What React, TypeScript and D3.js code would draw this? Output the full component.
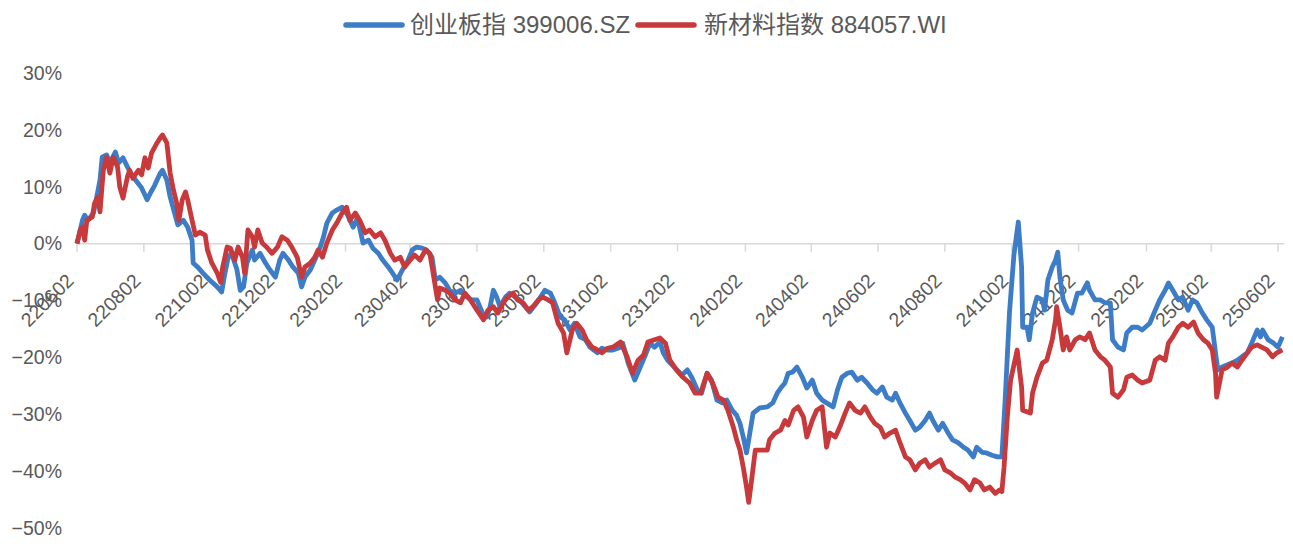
import React from "react";
import * as d3 from "d3";

// ---- data ----
const START_DATE = "2022-06-02";
const tickLabels = [
  "220602", "220802", "221002", "221202", "230202", "230402", "230602", "230802",
  "231002", "231202", "240202", "240402", "240602", "240802", "241002", "241202",
  "250202", "250402", "250602",
];
const yTicks = [30, 20, 10, 0, -10, -20, -30, -40, -50];
const seriesNames = ["创业板指 399006.SZ", "新材料指数 884057.WI"];
const seriesColors = ["#3d7cc6", "#c8393b"];

// [days since START_DATE, cumulative return %]
const cybData: [number, number][] = [
  [0,0],[5,4.1],[7,5.0],[10,4.1],[15,5.4],[18,8.2],[21,11.2],[23,15.2],[27,15.6],[30,14.2],[35,16.1],[38,14.2],[42,15.1],[46,13.5],[50,12.1],[55,10.8],[59,9.8],[64,7.7],[67,8.9],[71,10.3],[76,12.4],[78,12.9],[82,11.2],[85,8.2],[89,5.4],[92,3.3],[97,4.1],[101,2.9],[105,0.6],[106,-3.4],[110,-4.1],[115,-5.2],[121,-6.4],[128,-7.6],[132,-8.5],[135,-5.2],[138,-2.4],[141,-1.7],[146,-4.6],[149,-8.2],[152,-7.6],[155,-3.4],[160,-1.1],[162,-2.9],[167,-1.7],[172,-3.4],[176,-4.6],[181,-5.9],[185,-2.9],[188,-1.7],[193,-2.9],[197,-4.1],[202,-5.2],[205,-7.6],[208,-5.9],[213,-4.6],[217,-2.9],[222,-0.6],[225,1.2],[228,3.6],[233,5.4],[237,5.9],[242,6.4],[247,5.0],[252,2.9],[256,4.5],[261,0.1],[266,0.6],[270,-0.8],[275,-1.7],[279,-2.9],[284,-4.1],[288,-5.2],[292,-6.4],[297,-4.6],[301,-3.4],[306,-1.1],[310,-0.6],[315,-0.8],[319,-1.1],[324,-2.4],[327,-6.4],[331,-5.9],[336,-6.9],[340,-8.2],[345,-8.7],[350,-8.2],[356,-9.4],[360,-9.9],[365,-9.9],[370,-12.2],[374,-12.9],[377,-11.1],[380,-8.2],[383,-9.4],[386,-11.1],[391,-9.4],[395,-8.7],[400,-9.4],[404,-9.9],[409,-11.1],[413,-12.0],[418,-10.8],[423,-9.4],[427,-8.2],[432,-8.7],[436,-10.4],[441,-12.9],[445,-13.4],[450,-15.2],[454,-14.0],[459,-16.4],[464,-16.9],[468,-18.2],[475,-19.2],[479,-18.4],[484,-18.7],[489,-18.7],[496,-18.2],[498,-17.5],[503,-21.0],[509,-24.0],[514,-21.7],[518,-19.9],[523,-17.5],[527,-18.2],[532,-17.3],[535,-19.2],[539,-20.5],[545,-21.7],[552,-23.1],[557,-22.2],[561,-23.5],[566,-25.7],[570,-26.3],[575,-22.8],[579,-24.0],[584,-27.5],[589,-28.0],[593,-27.5],[598,-29.3],[602,-30.2],[605,-31.6],[608,-34.0],[611,-36.8],[614,-33.3],[617,-29.8],[623,-28.9],[630,-28.7],[635,-28.0],[639,-26.3],[643,-25.2],[646,-24.5],[649,-22.8],[653,-22.6],[657,-21.7],[662,-23.5],[666,-25.4],[671,-24.0],[675,-26.3],[680,-27.5],[684,-28.0],[690,-28.7],[694,-25.7],[698,-23.5],[703,-22.8],[707,-22.6],[712,-24.0],[716,-23.5],[721,-24.5],[726,-25.7],[730,-26.3],[735,-25.2],[739,-27.0],[744,-27.5],[747,-26.3],[751,-28.0],[756,-29.8],[760,-31.1],[765,-32.8],[769,-32.3],[774,-31.1],[778,-29.8],[781,-31.1],[786,-32.8],[790,-31.6],[795,-33.3],[799,-34.5],[804,-35.0],[809,-35.8],[813,-36.3],[818,-37.5],[821,-35.8],[826,-36.7],[830,-36.8],[835,-37.2],[840,-37.5],[844,-37.5],[847,-27.5],[851,-12.0],[855,-2.0],[859,3.8],[862,-4.1],[863,-14.7],[867,-14.7],[869,-16.9],[872,-12.2],[876,-9.4],[881,-9.9],[883,-11.7],[886,-6.4],[890,-4.1],[893,-2.9],[895,-1.5],[897,-5.9],[900,-9.9],[904,-11.7],[908,-12.2],[913,-8.7],[917,-8.7],[922,-6.9],[924,-8.2],[929,-9.9],[934,-9.9],[938,-10.4],[943,-10.4],[945,-16.9],[950,-18.2],[955,-18.7],[958,-15.7],[963,-14.7],[968,-14.7],[972,-15.2],[979,-14.0],[984,-11.7],[988,-9.9],[993,-8.2],[996,-6.9],[1000,-8.2],[1005,-9.9],[1009,-9.4],[1014,-11.7],[1018,-9.9],[1022,-10.4],[1027,-12.2],[1031,-13.4],[1036,-14.7],[1039,-19.2],[1041,-22.2],[1045,-21.7],[1050,-21.3],[1054,-21.0],[1059,-20.5],[1063,-19.9],[1068,-19.2],[1072,-17.5],[1077,-15.2],[1080,-16.4],[1082,-15.2],[1087,-16.9],[1092,-17.5],[1096,-18.2],[1100,-16.4],
];

const xclData: [number, number][] = [
  [0,0],[3,2.4],[5,2.9],[7,0.6],[9,4.1],[14,4.7],[16,7.1],[19,8.2],[21,5.6],[24,12.9],[27,15.2],[30,12.4],[33,15.2],[37,13.5],[39,10.0],[42,8.0],[46,11.7],[48,12.9],[51,11.5],[56,12.9],[59,12.1],[62,15.1],[65,13.3],[68,15.9],[73,17.7],[76,18.6],[78,19.1],[82,17.7],[85,12.4],[88,9.4],[91,7.1],[93,4.1],[96,7.7],[99,9.1],[101,7.7],[105,4.1],[108,1.5],[112,2.0],[117,1.5],[119,-1.1],[123,-3.4],[128,-5.2],[131,-6.8],[133,-4.1],[137,-0.6],[140,-0.8],[144,-2.9],[147,-0.6],[151,-2.4],[153,-5.2],[156,2.4],[160,1.2],[162,-0.6],[165,2.4],[169,0.1],[173,-0.6],[178,-1.7],[183,-0.6],[187,1.2],[192,0.6],[196,-0.6],[201,-2.4],[205,-5.9],[208,-4.1],[213,-3.4],[217,-2.4],[220,-1.1],[224,-2.4],[228,0.1],[233,2.4],[237,3.6],[242,5.4],[246,6.4],[249,4.1],[254,5.4],[258,4.1],[263,1.9],[267,2.4],[272,1.2],[277,1.9],[281,0.6],[286,-1.7],[290,-2.9],[295,-2.4],[299,-4.1],[304,-2.9],[308,-2.0],[313,-2.9],[318,-1.1],[322,-1.7],[325,-5.2],[329,-9.9],[331,-7.8],[336,-8.2],[340,-8.7],[345,-9.9],[350,-10.4],[354,-8.7],[359,-9.9],[365,-11.7],[371,-13.4],[375,-11.7],[380,-11.1],[384,-12.2],[389,-10.4],[393,-9.4],[398,-8.7],[402,-9.9],[407,-10.4],[412,-11.7],[416,-11.1],[421,-9.9],[425,-9.4],[430,-9.9],[434,-10.4],[439,-14.0],[444,-15.7],[447,-19.2],[452,-15.2],[456,-14.0],[461,-15.2],[465,-16.9],[470,-18.2],[475,-18.7],[479,-19.2],[484,-18.4],[489,-18.2],[496,-17.3],[502,-19.9],[507,-22.8],[512,-20.5],[517,-19.6],[521,-17.3],[527,-16.9],[532,-16.6],[537,-17.5],[541,-20.5],[547,-22.2],[553,-23.5],[559,-24.5],[564,-26.3],[569,-26.3],[575,-22.8],[580,-24.5],[585,-27.0],[590,-27.5],[594,-29.3],[599,-32.3],[602,-34.5],[605,-36.3],[608,-39.3],[611,-42.8],[613,-45.5],[616,-41.0],[619,-36.3],[623,-36.3],[630,-36.3],[632,-34.5],[637,-33.3],[642,-32.8],[646,-31.1],[649,-31.9],[654,-29.3],[658,-28.7],[663,-30.5],[666,-34.0],[671,-31.1],[675,-29.3],[680,-28.7],[684,-35.8],[687,-33.3],[692,-34.0],[696,-32.3],[701,-29.8],[705,-28.0],[710,-29.3],[715,-29.8],[719,-28.7],[724,-30.5],[728,-31.6],[733,-32.3],[737,-34.0],[742,-33.3],[747,-32.8],[751,-35.0],[756,-37.5],[760,-38.0],[765,-39.8],[769,-38.6],[774,-38.0],[778,-39.3],[783,-38.6],[788,-38.0],[792,-39.8],[797,-40.3],[801,-41.0],[806,-41.5],[810,-42.1],[815,-43.3],[819,-41.5],[824,-42.1],[828,-43.3],[833,-42.8],[838,-43.9],[842,-43.3],[844,-43.6],[846,-39.3],[849,-30.5],[852,-24.0],[858,-18.7],[862,-25.2],[863,-29.3],[870,-29.8],[872,-26.3],[876,-23.5],[881,-21.0],[885,-20.5],[890,-16.9],[893,-13.4],[894,-11.1],[897,-14.7],[900,-18.7],[903,-16.4],[906,-18.7],[911,-16.9],[915,-16.4],[920,-16.9],[924,-15.7],[929,-18.7],[934,-19.9],[938,-20.5],[943,-21.7],[945,-26.3],[950,-27.0],[955,-25.7],[958,-23.5],[963,-23.1],[968,-24.0],[972,-24.5],[979,-24.0],[984,-20.5],[988,-19.9],[993,-20.5],[996,-17.5],[1000,-16.4],[1005,-14.7],[1009,-14.0],[1014,-14.7],[1019,-13.8],[1023,-15.7],[1028,-16.9],[1032,-17.5],[1036,-18.7],[1039,-22.8],[1040,-27.0],[1045,-22.2],[1050,-21.7],[1054,-21.0],[1059,-21.7],[1063,-20.5],[1068,-19.2],[1072,-18.2],[1077,-17.8],[1081,-18.2],[1086,-18.7],[1091,-19.9],[1095,-19.2],[1100,-18.7],
];

// ---- layout ----
const W = 1293;
const H = 552;
const FONT = "Arial, 'Liberation Sans', 'Noto Sans CJK SC', sans-serif";
const TEXT = "#595959";
const AXIS = "#d9d9d9";

export default function App() {
  const start = d3.utcParse("%Y-%m-%d")(START_DATE)!;
  const parseTick = d3.utcParse("%y%m%d");
  const tickDates = tickLabels.map((t) => parseTick(t)!);

  const x = d3
    .scaleUtc()
    .domain([tickDates[0], tickDates[tickDates.length - 1]])
    .range([77, 1278]);
  const y = d3.scaleLinear().domain([-50, 30]).range([528, 73]);
  const fmt = d3.format(".0%");

  const line = d3
    .line<[number, number]>()
    .x((d) => x(d3.utcDay.offset(start, d[0])))
    .y((d) => y(d[1]));

  const y0 = y(0);
  const xEnd = x(d3.utcDay.offset(start, 1102));

  const legendItems = [
    { lineX: 346, textX: 410, name: seriesNames[0], color: seriesColors[0] },
    { lineX: 638, textX: 704, name: seriesNames[1], color: seriesColors[1] },
  ];

  return (
    <svg
      width={W}
      height={H}
      style={{ position: "absolute", left: 0, top: 0, background: "#fff" }}
      fontFamily={FONT}
    >
      <rect width={W} height={H} fill="#fff" />
      {/* legend */}
      {legendItems.map((it, i) => (
        <g key={i}>
          <line
            x1={it.lineX}
            x2={it.lineX + 56}
            y1={25}
            y2={25}
            stroke={it.color}
            strokeWidth={5.5}
            strokeLinecap="round"
          />
          <text x={it.textX} y={25} dy="0.35em" fontSize={24} fill={TEXT}>
            {it.name}
          </text>
        </g>
      ))}

      {/* y labels */}
      {yTicks.map((v) => (
        <text
          key={v}
          x={62}
          y={y(v)}
          dy="0.35em"
          textAnchor="end"
          fontSize={19.5}
          fill={TEXT}
        >
          {fmt(v / 100)}
        </text>
      ))}

      {/* x axis */}
      <line x1={77} x2={xEnd} y1={y0} y2={y0} stroke={AXIS} strokeWidth={1.5} />
      {tickDates.map((d, i) => (
        <line
          key={i}
          x1={x(d)}
          x2={x(d)}
          y1={y0}
          y2={y0 + 8}
          stroke={AXIS}
          strokeWidth={1.5}
        />
      ))}
      {tickDates.map((d, i) => (
        <text
          key={i}
          transform={`translate(${x(d) - 2},${282}) rotate(-45)`}
          textAnchor="end"
          fontSize={19.5}
          fill={TEXT}
        >
          {tickLabels[i]}
        </text>
      ))}

      {/* series */}
      <path
        d={line(cybData) || ""}
        fill="none"
        stroke={seriesColors[0]}
        strokeWidth={4.8}
        strokeLinejoin="round"
      />
      <path
        d={line(xclData) || ""}
        fill="none"
        stroke={seriesColors[1]}
        strokeWidth={4.8}
        strokeLinejoin="round"
      />
    </svg>
  );
}
